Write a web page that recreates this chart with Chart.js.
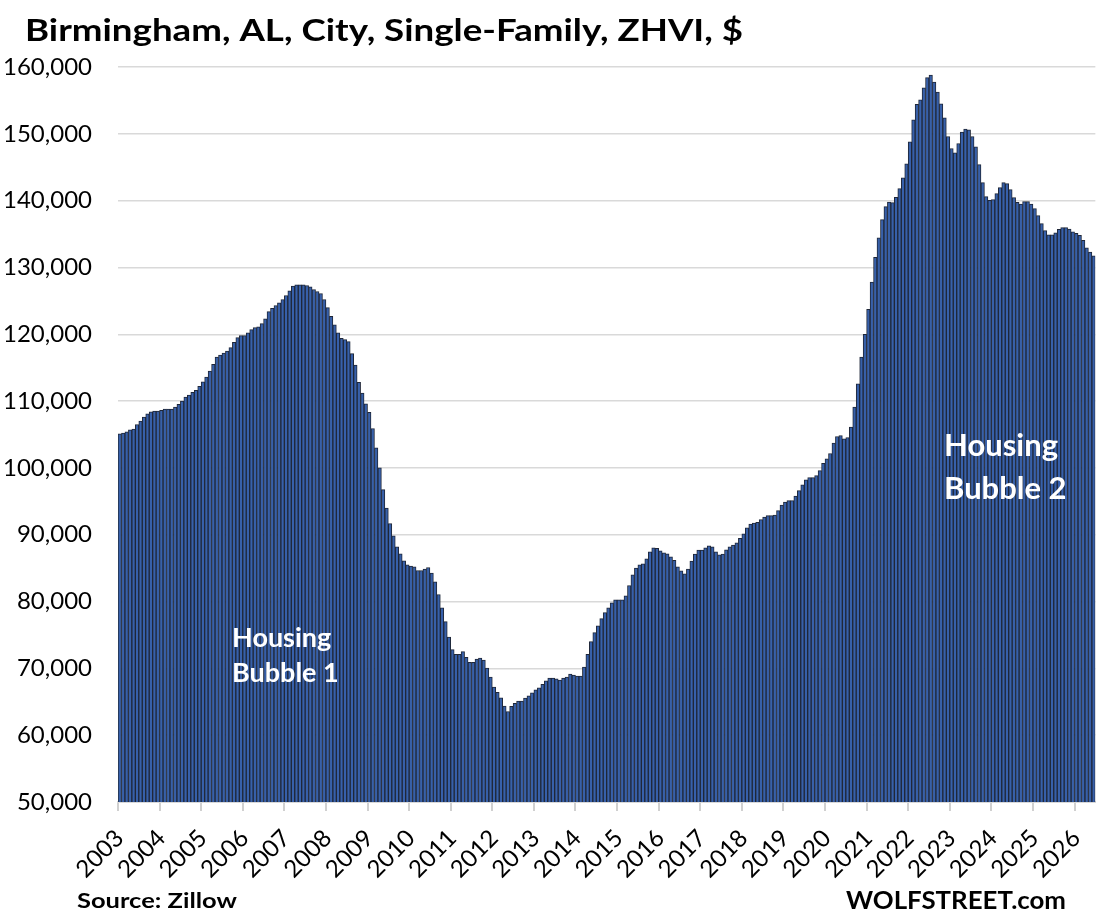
<!DOCTYPE html>
<html>
<head>
<meta charset="utf-8">
<script src="https://cdn.jsdelivr.net/npm/chart.js@4.4.1/dist/chart.umd.min.js"></script>
<style>
html,body{margin:0;padding:0;background:#fff;}
#wrap{width:1114px;height:923px;position:relative;}
canvas{display:block;}
</style>
</head>
<body>
<div id="wrap"><canvas id="c" width="1114" height="923"></canvas></div>
<script>
// Tick labels (one per January)
const yearTicks = ['2003','2004','2005','2006','2007','2008','2009','2010','2011','2012','2013','2014',
  '2015','2016','2017','2018','2019','2020','2021','2022','2023','2024','2025','2026'];
const monthNames = ['Jan','Feb','Mar','Apr','May','Jun','Jul','Aug','Sep','Oct','Nov','Dec'];

// Monthly ZHVI values ($), Jan 2003 onward
const zhvi2003to2008 = [
  105100,105200,105400,105700,105800,106500,107000,107600,108100,108400,108500,108500,
  108600,108800,108800,108800,109100,109500,110000,110600,110900,111300,111600,112200,
  112900,113600,114500,115500,116600,116900,117200,117500,118000,118800,119500,119800,
  119800,120200,120700,121000,121100,121600,122300,123400,123900,124300,124700,125200,
  125800,126500,127200,127400,127400,127400,127300,127100,126700,126400,126100,125200,
  124000,122700,121400,120200,119400,119200,118900,117100,115400,112800,111200,109600
];
const zhvi2009to2014 = [
  108300,105900,103000,100000,96750,94000,91650,89850,88200,87150,86100,85500,
  85300,85200,84650,84650,84850,85100,84250,82950,81050,79050,77000,74700,
  72800,72100,72100,72500,71650,70900,70900,71400,71550,71250,70050,68700,
  67200,66400,65600,64350,63550,64300,64750,65100,65100,65550,65900,66350,
  66800,67100,67600,68150,68550,68550,68450,68250,68550,68700,69150,69000,
  68850,68850,70200,72100,74000,75350,76350,77450,78350,79050,79800,80250
];
const zhvi2015to2020 = [
  80250,80250,80850,82400,84000,85000,85500,85650,86400,87450,88050,87950,
  87600,87300,87150,86700,86150,85200,84600,84150,84850,86050,87100,87700,
  87700,88050,88350,88200,87450,87000,87100,87750,88200,88450,88800,89450,
  90150,91050,91600,91750,91850,92250,92650,92850,92850,92950,93600,94450,
  94900,95100,95100,95800,96600,97450,98200,98550,98550,98850,99600,100700,
  101350,102150,103700,104700,104850,104350,104550,106100,109100,112600,116600,120000
];
const zhvi2021to2026 = [
  123750,127800,131500,134450,137150,139100,139800,139700,140500,141800,143400,145500,
  148800,152100,154400,155100,156900,158400,158800,157750,156250,154500,152400,149600,
  147800,147150,148550,150250,150700,150600,149600,148050,145400,142700,140600,140050,
  140150,141050,141950,142700,142550,141650,140450,139750,139500,139850,139850,139500,
  138800,137750,136550,135500,134900,134900,135200,135700,135950,135950,135750,135350,
  135100,134800,134050,132950,132300,131750
];
const zhvi = [].concat(zhvi2003to2008, zhvi2009to2014, zhvi2015to2020, zhvi2021to2026);
const months = zhvi.map((_, i) => monthNames[i % 12] + ' ' + yearTicks[Math.floor(i / 12)]);

const FONT = 'Lato, "Open Sans", sans-serif';

function fillFit(ctx, text, x, y, width) {
  const w = ctx.measureText(text).width;
  const sx = width / w;
  ctx.save();
  ctx.translate(x, y);
  ctx.scale(sx, 1);
  ctx.fillText(text, 0, 0);
  ctx.restore();
}

const textPlugin = {
  id: 'texts',
  afterDraw(chart) {
    const ctx = chart.ctx;
    ctx.save();
    ctx.textBaseline = 'alphabetic';
    ctx.textAlign = 'left';
    ctx.fillStyle = '#000';
    ctx.font = 'bold 31px ' + FONT;
    fillFit(ctx, 'Birmingham, AL, City, Single-Family, ZHVI, $', 25, 41, 718);
    ctx.font = 'bold 21px ' + FONT;
    fillFit(ctx, 'Source: Zillow', 77, 908, 160);
    ctx.font = 'bold 24px ' + FONT;
    fillFit(ctx, 'WOLFSTREET.com', 846, 909, 220);
    ctx.fillStyle = '#fff';
    ctx.font = 'bold 27px ' + FONT;
    ctx.fillText('Housing', 232, 647);
    ctx.fillText('Bubble 1', 232, 682);
    ctx.font = 'bold 31px ' + FONT;
    ctx.fillText('Housing', 944, 456);
    ctx.fillText('Bubble 2', 944, 499);
    ctx.restore();
  }
};

new Chart(document.getElementById('c'), {
  type: 'bar',
  data: {
    labels: months,
    datasets: [{
      data: zhvi,
      backgroundColor: '#3760aa',
      borderColor: '#1f2738',
      borderWidth: 1,
      barPercentage: 1,
      categoryPercentage: 1
    }]
  },
  options: {
    responsive: false,
    animation: false,
    devicePixelRatio: 1,
    layout: { padding: { top: 67, right: 12, left: 0, bottom: 0 } },
    plugins: { legend: { display: false }, tooltip: { enabled: false }, title: { display: false } },
    scales: {
      x: {
        type: 'category',
        offset: true,
        ticks: {
          autoSkip: false,
          maxRotation: 45,
          minRotation: 45,
          padding: 0,
          color: '#000',
          font: { family: FONT, size: 24 },
          callback: (v, i) => (i % 12 === 0 ? yearTicks[i / 12] : '')
        },
        grid: {
          offset: true,
          drawOnChartArea: false,
          drawTicks: true,
          tickLength: 22,
          tickBorderDash: [8, 200],
          tickWidth: 2,
          lineWidth: 2,
          color: c => (c.index % 12 === 0 ? '#d0d0d0' : 'rgba(0,0,0,0)')
        },
        border: { display: true, color: '#d9d9d9', width: 2 },
        afterFit: s => { s.height = 121; }
      },
      y: {
        min: 50000,
        max: 160000,
        ticks: {
          stepSize: 10000,
          padding: 26,
          color: '#000',
          font: { family: FONT, size: 24 },
          callback: v => v.toLocaleString('en-US')
        },
        grid: { color: '#d9d9d9', lineWidth: 1.5, drawTicks: false },
        border: { display: false },
        afterFit: s => { s.width = 118; }
      }
    }
  },
  plugins: [textPlugin]
});
</script>
</body>
</html>
